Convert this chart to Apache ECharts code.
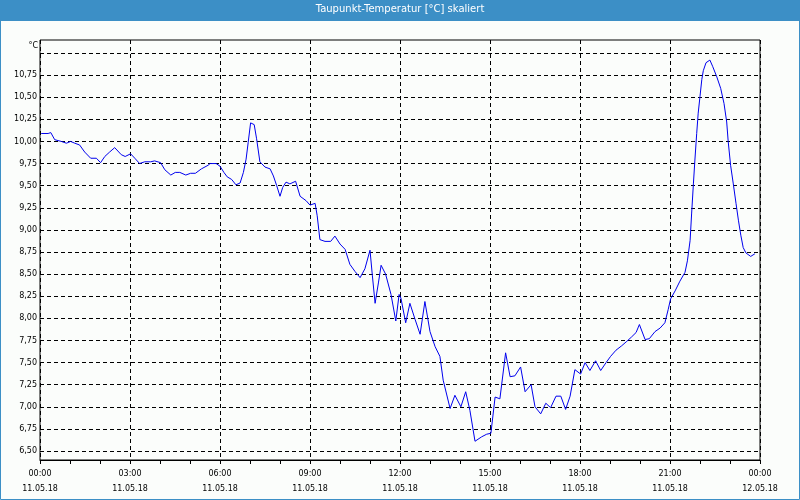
<!DOCTYPE html>
<html>
<head>
<meta charset="utf-8">
<script src="https://cdn.jsdelivr.net/npm/echarts@6/dist/echarts.min.js"></script>
<style>
    html, body { margin: 0; padding: 0; background: #fbfdfb; }
    #chart { width: 800px; height: 500px; }
</style>
</head>
<body>
<div id="chart"></div>
<script>
// hours since 11.05.18 00:00
const hours = [
    0.04, 0.27, 0.36, 0.49, 0.71, 0.88, 1.02, 1.16, 1.32, 1.49, 1.69, 1.88, 2.02, 2.16, 2.32, 2.49,
    2.71, 2.84, 3.02, 3.16, 3.32, 3.49, 3.69, 3.82, 4.02, 4.16, 4.36, 4.51, 4.66, 4.86, 5.02, 5.18,
    5.38, 5.6, 5.67, 5.87, 6.0, 6.13, 6.24, 6.39, 6.53, 6.67, 6.78, 6.87, 6.94, 7.02, 7.14, 7.22,
    7.33, 7.5, 7.67, 7.78, 7.89, 8.0, 8.09, 8.2, 8.33, 8.52, 8.67, 8.87, 9.0, 9.17, 9.24, 9.33,
    9.5, 9.69, 9.83, 10.0, 10.17, 10.33, 10.5, 10.67, 10.83, 11.0, 11.08, 11.17, 11.28, 11.37, 11.52, 11.7,
    11.86, 11.97, 12.03, 12.19, 12.33, 12.5, 12.67, 12.83, 13.0, 13.17, 13.33, 13.44, 13.67, 13.83, 14.03, 14.19,
    14.33, 14.5, 14.72, 14.89, 15.03, 15.17, 15.33, 15.52, 15.67, 15.83, 16.02, 16.17, 16.37, 16.5, 16.69, 16.86,
    17.02, 17.2, 17.36, 17.52, 17.67, 17.83, 18.02, 18.17, 18.33, 18.52, 18.69, 18.87, 19.02, 19.2, 19.39, 19.56,
    19.72, 19.87, 19.98, 20.17, 20.31, 20.5, 20.67, 20.83, 20.94, 21.02, 21.17, 21.33, 21.5, 21.58, 21.67, 21.72,
    21.78, 21.83, 21.89, 21.94, 22.0, 22.06, 22.11, 22.2, 22.33, 22.42, 22.56, 22.69, 22.8, 22.89, 22.94, 23.02,
    23.11, 23.2, 23.28, 23.36, 23.44, 23.53, 23.69, 23.83
]
// Taupunkt in °C
const dewPoint = [
    10.09, 10.09, 10.10, 10.02, 10.00, 9.98, 10.00, 9.98, 9.96, 9.88, 9.81, 9.81, 9.76, 9.83, 9.88, 9.93,
    9.85, 9.83, 9.86, 9.81, 9.75, 9.77, 9.77, 9.78, 9.76, 9.68, 9.62, 9.65, 9.65, 9.62, 9.64, 9.64,
    9.69, 9.73, 9.75, 9.75, 9.72, 9.65, 9.60, 9.57, 9.51, 9.53, 9.65, 9.80, 9.99, 10.21, 10.19, 10.03,
    9.77, 9.71, 9.69, 9.61, 9.50, 9.38, 9.48, 9.54, 9.52, 9.55, 9.38, 9.33, 9.28, 9.30, 9.16, 8.89,
    8.87, 8.87, 8.93, 8.84, 8.78, 8.61, 8.53, 8.46, 8.56, 8.77, 8.48, 8.17, 8.40, 8.60, 8.50, 8.27,
    7.97, 8.27, 8.23, 7.95, 8.17, 7.99, 7.82, 8.19, 7.85, 7.68, 7.57, 7.30, 6.98, 7.13, 7.00, 7.17,
    6.96, 6.61, 6.66, 6.69, 6.70, 7.11, 7.09, 7.61, 7.34, 7.35, 7.45, 7.17, 7.25, 7.00, 6.92, 7.04,
    6.99, 7.12, 7.12, 6.97, 7.12, 7.42, 7.37, 7.50, 7.41, 7.52, 7.41, 7.50, 7.57, 7.64, 7.69, 7.74,
    7.79, 7.84, 7.93, 7.76, 7.77, 7.85, 7.89, 7.95, 8.10, 8.22, 8.31, 8.42, 8.52, 8.65, 8.88, 9.18,
    9.52, 9.79, 10.09, 10.32, 10.51, 10.70, 10.80, 10.89, 10.92, 10.85, 10.73, 10.60, 10.43, 10.22, 10.00, 9.73,
    9.52, 9.30, 9.11, 8.94, 8.80, 8.74, 8.70, 8.73
]
const timeLabels = ['00:00', '03:00', '06:00', '09:00', '12:00', '15:00', '18:00', '21:00', '00:00']
const dateLabels = ['11.05.18', '11.05.18', '11.05.18', '11.05.18', '11.05.18', '11.05.18', '11.05.18', '11.05.18', '12.05.18']

const font = '"DejaVu Sans", Tahoma, sans-serif'
const dash = [4, 3]

let chart = echarts.init(document.getElementById('chart'), null, {renderer: 'canvas'})

chart.setOption({
    animation: false,
    backgroundColor: '#fbfdfb',
    title: {
        text: 'Taupunkt-Temperatur [°C] skaliert',
        left: 'center',
        top: 4,
        padding: 0,
        textStyle: {
            color: '#ffffff',
            fontFamily: font,
            fontSize: 10,
            fontWeight: 'normal'
        }
    },
    graphic: [{
        type: 'rect',
        z: -1,
        shape: {x: 0, y: 0, width: 800, height: 21},
        style: {fill: '#3c8fc6'}
    }, {
        type: 'rect',
        z: -1,
        shape: {x: 0.5, y: 0.5, width: 799, height: 499},
        style: {fill: null, stroke: '#3c8fc6', lineWidth: 1}
    }],
    grid: [{
        // frame + time axis
        left: 40, right: 40, top: 40, bottom: 40,
        show: true,
        borderColor: '#000',
        borderWidth: 1,
        backgroundColor: 'transparent'
    }, {
        // value axis
        left: 40, right: 40, top: 53, bottom: 49
    }],
    xAxis: [{
        gridIndex: 0,
        type: 'value',
        min: 0,
        max: 24,
        interval: 3,
        axisLine: {lineStyle: {color: '#000', width: 1}},
        axisTick: {show: true, length: 4, lineStyle: {color: '#000'}},
        minorTick: {show: true, splitNumber: 3, length: 4, lineStyle: {color: '#000'}},
        splitLine: {show: true, lineStyle: {color: '#000', type: dash, width: 1}},
        axisLabel: {
            margin: 6,
            color: '#000',
            fontFamily: font,
            fontSize: 8,
            lineHeight: 15,
            showMinLabel: true,
            showMaxLabel: true,
            formatter: function(v) {
                let i = Math.round(v / 3)
                return timeLabels[i] + '\n' + dateLabels[i]
            }
        }
    }, {
        gridIndex: 1,
        type: 'value',
        min: 0,
        max: 24,
        show: false
    }],
    yAxis: [{
        gridIndex: 0,
        type: 'value',
        min: 0,
        max: 1,
        show: false
    }, {
        gridIndex: 1,
        type: 'value',
        min: 6.5,
        max: 11,
        interval: 0.25,
        name: '°C',
        nameLocation: 'end',
        nameGap: 3,
        nameTextStyle: {
            color: '#000',
            fontFamily: font,
            fontSize: 8,
            align: 'right',
            padding: [0, 2, 0, 0]
        },
        axisLine: {show: false},
        axisTick: {show: false},
        splitLine: {show: true, lineStyle: {color: '#000', type: dash, width: 1}},
        axisLabel: {
            margin: 3,
            color: '#000',
            fontFamily: font,
            fontSize: 8,
            formatter: function(v) {
                if (v >= 11) return ''
                return v.toFixed(2).replace('.', ',')
            }
        }
    }],
    series: [{
        name: 'Taupunkt',
        type: 'line',
        xAxisIndex: 1,
        yAxisIndex: 1,
        showSymbol: false,
        symbol: 'none',
        lineStyle: {color: '#0000ee', width: 1},
        data: hours.map((h, i) => [h, dewPoint[i]])
    }]
})
</script>
</body>
</html>
